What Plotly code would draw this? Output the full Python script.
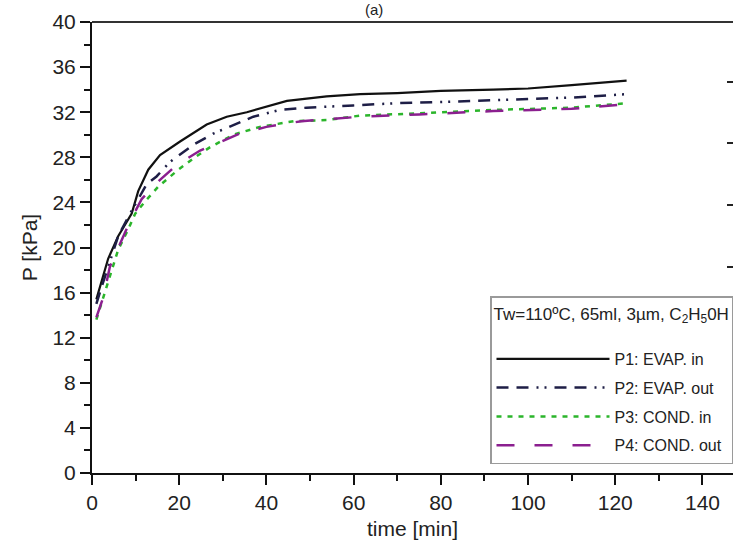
import plotly.graph_objects as go

# ---- data ----
t_p1 = [1, 3.7, 6, 9.1, 10.6, 12.9, 15.6, 20.2, 26.3, 30.9, 35.5, 44.7, 53.8, 61.5, 70, 80, 92, 100, 110, 120, 122.6]
p_p1 = [15.4, 19.0, 21.0, 23.0, 25.0, 26.9, 28.2, 29.4, 30.9, 31.6, 32.0, 33.0, 33.4, 33.6, 33.7, 33.9, 34.0, 34.1, 34.4, 34.7, 34.8]

t_p2 = [1, 2.2, 6, 8.3, 12.5, 14.8, 17.9, 23.2, 27.8, 33.2, 37, 43.1, 49.2, 59.9, 70, 80, 94.3, 110, 122.6]
p_p2 = [15.0, 16.5, 21.0, 22.7, 25.6, 26.3, 27.6, 29.1, 30.1, 31.0, 31.6, 32.2, 32.4, 32.6, 32.8, 32.9, 33.1, 33.3, 33.6]

t_p3 = [1, 3, 6, 8.3, 9.9, 12.2, 15.2, 19.8, 23.6, 27.1, 32.4, 38.5, 46.2, 53.8, 61.5, 75, 92, 110, 122.6]
p_p3 = [13.6, 16.0, 19.8, 21.6, 23.0, 24.1, 25.4, 26.9, 28.0, 28.9, 30.0, 30.7, 31.2, 31.3, 31.7, 31.9, 32.2, 32.4, 32.8]

t_p4 = [1, 2.6, 4.1, 6.8, 8.7, 11.4, 15.6, 19.4, 24.8, 33.9, 40, 48, 61.5, 75, 92, 110, 122.6]
p_p4 = [13.8, 15.6, 18.3, 20.7, 22.3, 24.3, 26.0, 27.3, 28.6, 30.1, 30.7, 31.2, 31.6, 31.8, 32.1, 32.3, 32.7]

names = ["P1: EVAP. in", "P2: EVAP. out", "P3: COND. in", "P4: COND. out"]
legend_title = "Tw=110ºC, 65ml, 3µm, C<sub>2</sub>H<sub>5</sub>0H<br> "

fig = go.Figure()
series = [
    (t_p1, p_p1, names[0], dict(color="#111111", width=2.2, dash="solid")),
    (t_p2, p_p2, names[1], dict(color="#1e1e46", width=2.5, dash="12px,8px,12px,8px,2px,6px,2px,8px")),
    (t_p3, p_p3, names[2], dict(color="#2bb52b", width=2.5, dash="5px,6px")),
    (t_p4, p_p4, names[3], dict(color="#8b1f8f", width=2.5, dash="18px,20px")),
]
for i, (x, y, n, ln) in enumerate(series):
    fig.add_trace(go.Scatter(x=x, y=y, mode="lines", name=n, line=ln,
                             legendgroup=f"g{i}"))

# right-edge inside ticks (belonging to the neighbouring panel)
fig.add_trace(go.Scatter(x=[0], y=[0], yaxis="y2", mode="lines", showlegend=False,
                         hoverinfo="skip", line=dict(width=0)))

axis_font = dict(family="Liberation Sans, Arial, sans-serif", size=21, color="#222222")
leg_font = dict(family="Liberation Sans, Arial, sans-serif", size=16, color="#222")
leg_title_font = dict(family="Liberation Sans, Arial, sans-serif", size=17, color="#222")

fig.update_layout(
    width=733, height=546,
    margin=dict(l=92, r=0, t=22, b=73),
    paper_bgcolor="white", plot_bgcolor="white",
    showlegend=True,
    xaxis=dict(range=[0, 147], tickmode="array", tickvals=[0, 20, 40, 60, 80, 100, 120, 140],
               ticks="outside", ticklen=10, tickwidth=2, tickcolor="#111",
               minor=dict(dtick=10, tick0=0, ticks="outside", ticklen=6, tickwidth=2, tickcolor="#111"),
               showline=True, linecolor="#111", linewidth=2, showgrid=False, zeroline=False,
               tickfont=axis_font,
               title=dict(text="time [min]", font=axis_font, standoff=8)),
    yaxis=dict(range=[0, 40], tickmode="array", tickvals=[0, 4, 8, 12, 16, 20, 24, 28, 32, 36, 40],
               ticks="outside", ticklen=10, tickwidth=2, tickcolor="#111",
               minor=dict(dtick=2, tick0=0, ticks="outside", ticklen=6, tickwidth=2, tickcolor="#111"),
               showline=True, linecolor="#111", linewidth=2, showgrid=False, zeroline=False,
               tickfont=axis_font,
               title=dict(text="P [kPa]", font=axis_font, standoff=9)),
    yaxis2=dict(range=[0, 40], overlaying="y", side="right", showline=False, showgrid=False,
                zeroline=False, tickmode="array", tickvals=[34.7, 29.3, 23.8, 18.3],
                ticks="inside", ticklen=6, tickwidth=2, tickcolor="#222", showticklabels=False),
    legend=dict(x=0.621, y=0.392, xanchor="left", yanchor="top",
                bgcolor="white", bordercolor="#9a9a9a", borderwidth=1.5,
                font=leg_font,
                title=dict(text=legend_title, side="top", font=leg_title_font),
                traceorder="grouped", tracegroupgap=5, itemwidth=113),
    shapes=[dict(type="line", xref="paper", yref="paper", x0=0, x1=1, y0=1, y1=1,
                 line=dict(color="#333", width=2))],
    annotations=[dict(text="(a)", xref="paper", yref="paper", x=0.44, y=1,
                      xanchor="center", yanchor="bottom", yshift=2, showarrow=False,
                      font=dict(family="Liberation Sans, Arial, sans-serif", size=15, color="#222"))],
)

fig.write_html("out.html")
